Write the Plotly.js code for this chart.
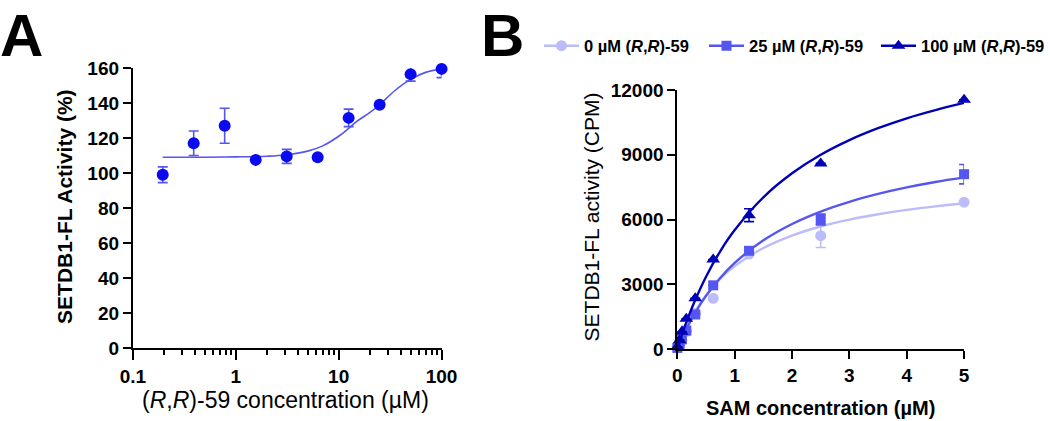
<!DOCTYPE html>
<html>
<head>
<meta charset="utf-8">
<script src="https://cdn.plot.ly/plotly-3.0.1.min.js"></script>
<style>html,body{margin:0;padding:0;background:#fff;}#chart{width:1050px;height:421px;}</style>
</head>
<body>
<div id="chart"></div>
<script>
// ---------- Panel A data ----------
var concA = [0.195, 0.39, 0.78, 1.5625, 3.125, 6.25, 12.5, 25, 50, 100];
var actA = [99, 117, 127, 107.5, 109.5, 109, 131.5, 139, 156.5, 159.5];
var errA = [4.5, 7, 10, 0, 4, 0, 5, 0, 4, 5];
var fitConcA = [0.195, 0.5, 1, 2, 3, 5, 7, 10, 12.5, 15, 20, 25, 35, 50, 70, 100];
var fitActA = [109, 109, 109.2, 109.6, 110.3, 112.5, 115.5, 121, 125.5, 129.5, 134.5, 139, 147, 153.5, 157.5, 159.5];
var xTickValsA = [0.1, 1, 10, 100];
var xTickTextA = ['0.1', '1', '10', '100'];
var xMinorTicksA = [0.2, 0.3, 0.4, 0.5, 0.6, 0.7, 0.8, 0.9, 2, 3, 4, 5, 6, 7, 8, 9, 20, 30, 40, 50, 60, 70, 80, 90];
var yTickValsA = [0, 20, 40, 60, 80, 100, 120, 140, 160];

// ---------- Panel B data ----------
var samB = [0, 0.039, 0.078, 0.156, 0.3125, 0.625, 1.25, 2.5, 5];
var cpm0 = [50, 200, 400, 800, 1650, 2350, 4400, 5250, 6800];
var err0 = [0, 0, 0, 0, 0, 0, 0, 550, 0];
var cpm25 = [50, 200, 450, 850, 1600, 2950, 4550, 6000, 8100];
var err25 = [0, 0, 0, 0, 0, 0, 0, 250, 450];
var cpm100 = [100, 400, 800, 1400, 2350, 4150, 6200, 8600, 11550];
var err100 = [0, 0, 0, 0, 0, 0, 300, 0, 0];
var fitSamB = [0, 0.1, 0.2, 0.3, 0.5, 0.75, 1, 1.5, 2, 2.5, 3, 3.5, 4, 4.5, 5];
var fit0 = [0, 656, 1216, 1700, 2494, 3254, 3838, 4680, 5256, 5675, 5993, 6243, 6445, 6610, 6750];
var fit25 = [0, 604, 1142, 1630, 2460, 3304, 3990, 5035, 5794, 6370, 6821, 7185, 7486, 7737, 7950];
var fit100 = [0, 810, 1540, 2200, 3350, 4540, 5510, 7030, 8140, 9000, 9680, 10230, 10690, 11070, 11400];
var seriesNamesB = ['0 µM (<i>R</i>,<i>R</i>)-59', '25 µM (<i>R</i>,<i>R</i>)-59', '100 µM (<i>R</i>,<i>R</i>)-59'];
var xTickValsB = [0, 1, 2, 3, 4, 5];
var yTickValsB = [0, 3000, 6000, 9000, 12000];
var yTickTextB = ['0', '3000', '6000', '9000', '12000'];

// ---------- styles ----------
var W = 1050, H = 421;
function px(x) { return x / W; }
function py(y) { return 1 - y / H; }
var FONT = 'Arial, "Liberation Sans", sans-serif';
var colA = 'rgb(10,10,240)';
var colAfit = 'rgb(85,85,240)';
var col0 = 'rgb(188,188,250)';
var col25 = 'rgb(85,85,242)';
var col100 = 'rgb(0,0,180)';

var traces = [];
// Panel A
traces.push({x: fitConcA, y: fitActA, xaxis: 'x', yaxis: 'y', mode: 'lines', line: {color: colAfit, width: 1.6, shape: 'spline'}, showlegend: false, hoverinfo: 'skip', cliponaxis: false});
traces.push({x: concA, y: actA, xaxis: 'x', yaxis: 'y', mode: 'markers', marker: {color: colA, size: 12, symbol: 'circle'},
  error_y: {type: 'data', array: errA, visible: true, color: colAfit, thickness: 1.6, width: 5}, showlegend: false, cliponaxis: false});

// Panel B
var bSets = [
  {y: cpm0, e: err0, f: fit0, c: col0, s: 'circle', sz: 11},
  {y: cpm25, e: err25, f: fit25, c: col25, s: 'square', sz: 10},
  {y: cpm100, e: err100, f: fit100, c: col100, s: 'triangle-up', sz: 12}
];
bSets.forEach(function (b, i) {
  traces.push({x: fitSamB, y: b.f, xaxis: 'x2', yaxis: 'y2', mode: 'lines', line: {color: b.c, width: 2.4, shape: 'spline'}, showlegend: false, hoverinfo: 'skip', cliponaxis: false});
  traces.push({x: samB, y: b.y, xaxis: 'x2', yaxis: 'y2', mode: 'markers', marker: {color: b.c, size: b.sz, symbol: b.s},
    error_y: {type: 'data', array: b.e, visible: true, color: b.c, thickness: 1.6, width: 5}, showlegend: false, cliponaxis: false});
});
// legend entries (one legend per entry for exact placement)
var legendIds = ['legend', 'legend2', 'legend3'];
bSets.forEach(function (b, i) {
  traces.push({x: [null], y: [null], xaxis: 'x2', yaxis: 'y2', mode: 'lines+markers', name: seriesNamesB[i], legend: legendIds[i],
    line: {color: b.c, width: 2.4}, marker: {color: b.c, size: b.sz, symbol: b.s}, showlegend: true});
});

var axisCommon = {
  showline: true, linecolor: '#000', linewidth: 2, ticks: 'outside', ticklen: 8, tickwidth: 2, tickcolor: '#000',
  showgrid: false, zeroline: false, fixedrange: true,
  tickfont: {family: FONT, size: 19, color: '#000', weight: 'bold'}
};
function legendAt(xLineStart) {
  return {
    orientation: 'h', x: px(xLineStart - 6), xanchor: 'left', y: py(46), yanchor: 'middle',
    font: {family: FONT, size: 16.5, color: '#000', weight: 'bold'},
    bgcolor: 'rgba(0,0,0,0)', itemwidth: 35
  };
}

var layout = {
  width: W, height: H,
  margin: {l: 0, r: 0, t: 0, b: 0},
  paper_bgcolor: '#fff', plot_bgcolor: 'rgba(0,0,0,0)',
  font: {family: FONT, color: '#000'},
  xaxis: Object.assign({}, axisCommon, {
    type: 'log', range: [-1, 2], domain: [px(133), px(442)], anchor: 'y',
    tickvals: xTickValsA, ticktext: xTickTextA, ticklen: 10,
    minor: {tickmode: 'array', tickvals: xMinorTicksA, ticks: 'outside', ticklen: 5, tickwidth: 2, tickcolor: '#000', showgrid: false}
  }),
  yaxis: Object.assign({}, axisCommon, {
    range: [0, 160], domain: [py(348), py(68)], anchor: 'x', tickvals: yTickValsA
  }),
  xaxis2: Object.assign({}, axisCommon, {
    range: [0, 5], domain: [px(678), px(965)], anchor: 'y2', tickvals: xTickValsB
  }),
  yaxis2: Object.assign({}, axisCommon, {
    range: [0, 12000], domain: [py(349), py(90)], anchor: 'x2', tickvals: yTickValsB, ticktext: yTickTextB
  }),
  showlegend: true,
  legend: legendAt(545),
  legend2: legendAt(710),
  legend3: legendAt(883),
  annotations: [
    {text: 'A', xref: 'paper', yref: 'paper', x: px(-2), y: py(0), xanchor: 'left', yanchor: 'top', showarrow: false,
      font: {family: FONT, size: 60, color: '#000', weight: 'bold'}},
    {text: 'B', xref: 'paper', yref: 'paper', x: px(479), y: py(0), xanchor: 'left', yanchor: 'top', showarrow: false,
      font: {family: FONT, size: 60, color: '#000', weight: 'bold'}},
    {text: 'SETDB1-FL Activity (%)', xref: 'paper', yref: 'paper', x: px(64), y: py(206), xanchor: 'center', yanchor: 'middle', textangle: -90, showarrow: false,
      font: {family: FONT, size: 21, color: '#000', weight: 'bold'}},
    {text: '(<i>R</i>,<i>R</i>)-59 concentration (µM)', xref: 'paper', yref: 'paper', x: px(286), y: py(400), xanchor: 'center', yanchor: 'middle', showarrow: false,
      font: {family: FONT, size: 23, color: '#000'}},
    {text: 'SETDB1-FL activity (CPM)', xref: 'paper', yref: 'paper', x: px(592), y: py(217), xanchor: 'center', yanchor: 'middle', textangle: -90, showarrow: false,
      font: {family: FONT, size: 21, color: '#000'}},
    {text: 'SAM concentration (µM)', xref: 'paper', yref: 'paper', x: px(821), y: py(408), xanchor: 'center', yanchor: 'middle', showarrow: false,
      font: {family: FONT, size: 20, color: '#000', weight: 'bold'}}
  ]
};

Plotly.newPlot('chart', traces, layout, {displayModeBar: false, staticPlot: true});
</script>
</body>
</html>
